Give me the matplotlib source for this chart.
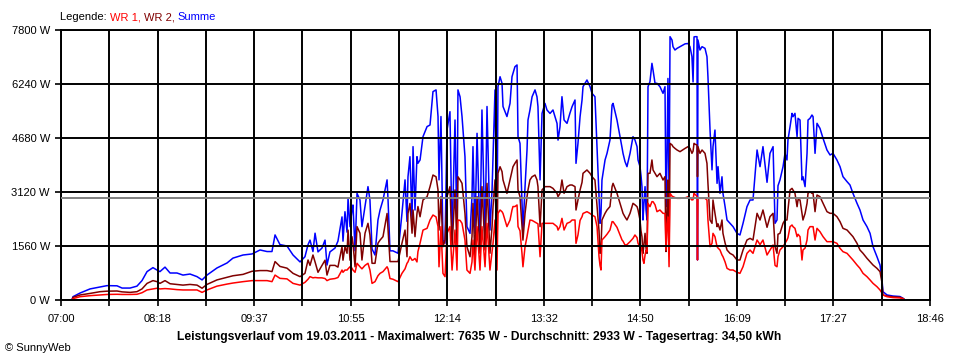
import matplotlib.pyplot as plt
import numpy as np

plt.rcParams['font.family'] = ['Liberation Sans', 'DejaVu Sans']

# Zeit in Minuten seit Mitternacht
zeit = [420.0, 428.9, 429.7, 435.4, 443.6, 451.7, 457.4, 465.5, 469.6, 476.1, 481.7, 485.8, 489.9, 494.7, 498.0,
        500.4, 504.5, 508.6, 514.2, 519.1, 524.8, 530.5, 534.6, 538.6, 546.7, 554.9, 559.7, 567.9, 575.2, 581.7,
        587.4, 591.4, 593.9, 597.9, 603.6, 608.5, 614.2, 618.2, 620.7, 622.3, 624.7, 626.4, 628.8, 632.0, 634.5,
        636.1, 638.5, 642.6, 645.0, 648.3, 649.1, 650.7, 652.4, 653.2, 654.8, 656.4, 657.2, 658.9, 660.5, 662.9,
        664.5, 667.0, 669.4, 671.0, 672.7, 675.1, 677.5, 679.2, 681.6, 684.9, 685.7, 687.3, 689.7, 693.8, 697.0,
        699.5, 701.1, 701.9, 703.5, 705.2, 706.0, 707.6, 709.2, 710.0, 711.7, 714.1, 717.4, 719.8, 722.2, 724.7,
        726.3, 727.1, 728.7, 730.3, 732.0, 733.6, 736.0, 737.7, 740.1, 741.7, 742.5, 744.2, 745.8, 748.2, 749.8,
        752.3, 753.9, 754.7, 756.3, 758.0, 760.4, 762.0, 764.5, 766.1, 768.5, 770.2, 771.0, 772.6, 774.2, 775.0,
        776.7, 778.3, 779.1, 782.3, 784.8, 786.4, 787.2, 788.8, 790.5, 791.3, 792.9, 794.5, 795.3, 797.0, 798.6,
        799.4, 801.0, 802.7, 805.1, 806.7, 807.5, 809.2, 810.8, 813.2, 814.8, 817.3, 819.7, 823.0, 823.8, 825.4,
        827.0, 828.7, 831.1, 833.5, 835.2, 837.6, 838.4, 840.0, 841.7, 843.3, 844.1, 847.3, 849.8, 851.4, 853.8,
        855.5, 857.1, 857.9, 858.7, 859.5, 862.0, 863.6, 866.0, 867.7, 868.5, 871.7, 874.2, 875.8, 876.6, 878.2,
        879.8, 882.3, 884.7, 886.3, 888.0, 888.8, 890.4, 891.2, 892.0, 892.8, 893.6, 894.5, 895.3, 896.1, 896.9,
        898.5, 900.1, 901.0, 902.6, 904.2, 906.6, 909.1, 910.7, 911.5, 912.3, 913.1, 914.0, 914.8, 916.4, 917.2,
        918.8, 920.5, 922.9, 927.0, 929.4, 931.0, 932.6, 933.5, 934.3, 935.1, 936.7, 937.1, 937.5, 939.1, 940.8,
        943.2, 944.8, 945.6, 947.3, 948.9, 949.7, 951.3, 953.0, 953.8, 955.4, 957.0, 957.8, 959.5, 961.1, 963.5,
        966.0, 969.2, 971.6, 974.1, 977.3, 979.8, 982.2, 985.5, 987.9, 990.3, 993.6, 996.0, 998.5, 1000.1, 1001.7,
        1002.5, 1004.1, 1006.6, 1008.2, 1009.8, 1010.6, 1012.3, 1013.9, 1014.7, 1016.3, 1018.0, 1018.8, 1020.4, 1022.0, 1022.8,
        1024.5, 1026.1, 1026.9, 1028.5, 1030.1, 1031.0, 1032.6, 1034.2, 1036.6, 1039.1, 1042.3, 1044.8, 1047.2, 1050.4, 1052.9,
        1055.3, 1058.6, 1061.0, 1063.4, 1066.7, 1069.1, 1071.6, 1074.8, 1077.3, 1079.7, 1082.9, 1085.4, 1087.0, 1087.8, 1091.1,
        1095.9, 1101.6, 1104.1, 1105.7]

summe = [0, 0, 95, 200, 320, 375, 415, 410, 345, 345, 400, 560, 820, 935, 865,
         820, 950, 780, 780, 720, 750, 675, 580, 720, 925, 1070, 1210, 1300, 1330, 1445,
         1400, 1400, 1880, 1600, 1560, 1300, 1100, 1250, 1600, 1730, 1400, 1930, 1390, 1500, 1730,
         1010, 1390, 1500, 1700, 2400, 1700, 2550, 1960, 2940, 2120, 2600, 2745, 1420, 3080, 2890,
         2120, 2700, 3275, 2890, 1475, 1300, 2310, 2600, 2890, 3470, 2890, 1420, 1420, 1350, 2500,
         3470, 2270, 3560, 4140, 2300, 4430, 2600, 4140, 3950, 4045, 4720, 5010, 5055, 6020, 6070,
         5300, 3470, 5300, 1730, 1640, 4910, 5440, 1730, 5200, 1730, 6070, 5870, 5300, 4140, 2120,
         1925, 2985, 4430, 1925, 4815, 1730, 5490, 1730, 5590, 2020, 3180, 4140, 6070, 1730, 6160,
         6450, 6260, 5590, 5300, 5680, 6450, 6550, 6740, 6790, 4720, 4525, 2890, 2020, 3275, 4330,
         5200, 5490, 5870, 6070, 5870, 5590, 3470, 5390, 5680, 5490, 5390, 5490, 5100, 4620, 5007,
         5873, 5200, 5103, 5400, 5585, 5778, 3948, 4525, 5295, 5778, 6163, 6355, 6163, 5970, 5873,
         4430, 3000, 2215, 2500, 3467, 4045, 4237, 4622, 5633, 5680, 5200, 4718, 4400, 4237, 4000,
         3852, 4237, 4718, 4622, 4430, 4045, 3852, 3600, 3275, 2311, 2800, 3275, 2600, 2311, 6163,
         6307, 6837, 6640, 6260, 6260, 6163, 5970, 6163, 2696, 4000, 6400, 3000, 7607, 7511, 7318,
         7222, 7270, 7318, 7400, 7410, 7318, 7030, 6300, 7600, 7607, 7607, 1156, 7511, 7222, 7318,
         7270, 7030, 6450, 4910, 3760, 4430, 4910, 3370, 3852, 3082, 3560, 3082, 2700, 2311, 2215,
         2119, 1926, 1878, 2215, 2696, 2889, 2889, 4333, 3852, 4430, 3400, 4237, 4430, 2215, 2311,
         3300, 3467, 3852, 4237, 4045, 4622, 5007, 5392, 5296, 5392, 4718, 5248, 5200, 3467, 3563,
         3275, 4237, 5200, 5248, 5344, 5296, 4237, 5104, 4959, 4670, 4333, 4189, 4237, 4044, 3852,
         3563, 3419, 3322, 3082, 2793, 2600, 2311, 2119, 1926, 1541, 1252, 1011, 580, 240, 145,
         115, 100, 50, 0]

wr2 = [0, 0, 75, 145, 190, 240, 255, 260, 235, 220, 240, 320, 480, 560, 530,
       480, 560, 470, 450, 430, 450, 430, 340, 450, 580, 655, 700, 740, 830, 850,
       850, 820, 1110, 970, 920, 770, 675, 770, 1155, 1000, 1300, 1100, 800, 1000, 1150,
       720, 1000, 1000, 950, 1540, 1150, 1540, 1350, 2020, 1150, 1830, 1640, 960, 2120, 1930,
       1155, 1930, 2215, 1880, 1060, 1060, 1640, 1730, 1830, 2500, 2020, 1110, 1110, 1110, 1640,
       2020, 1250, 2500, 2790, 1930, 2600, 1830, 2500, 2700, 2405, 2890, 2985, 3275, 3610, 3560,
       3180, 2020, 2985, 1540, 1730, 2985, 3275, 1540, 3180, 1540, 3560, 3470, 3370, 2500, 1540,
       1250, 1830, 2790, 1250, 2985, 1350, 3275, 1445, 3370, 1350, 2120, 2700, 3470, 1350, 3660,
       3850, 3710, 3470, 3080, 3470, 3710, 3850, 3950, 4045, 3180, 2985, 2120, 1730, 2500, 2985,
       3180, 3470, 3560, 3610, 3470, 3275, 2120, 3180, 3275, 3275, 3275, 3225, 3080, 2985, 3082,
       3467, 3082, 3275, 3322, 3322, 3275, 2600, 2889, 3178, 3400, 3660, 3756, 3660, 3563, 3467,
       2696, 2000, 1348, 1500, 2311, 2504, 2600, 2700, 3275, 3370, 3082, 2793, 2600, 2504, 2400,
       2311, 2504, 2793, 2750, 2696, 2600, 2311, 2000, 1830, 1348, 1600, 1926, 1500, 1348, 3660,
       3660, 4045, 3756, 3660, 3563, 3660, 3467, 3563, 1400, 2500, 3467, 1348, 4525, 4480, 4430,
       4380, 4333, 4285, 4380, 4430, 4380, 4237, 4300, 4525, 4500, 4480, 3563, 4430, 4237, 4333,
       4237, 3948, 3370, 2311, 2215, 2889, 2504, 2119, 2200, 2022, 2311, 1926, 1650, 1444, 1348,
       1300, 1156, 1156, 1444, 1733, 1781, 1733, 2504, 2311, 2600, 2100, 2407, 2504, 1541, 1348,
       1900, 1926, 2215, 2311, 2311, 2600, 3178, 3225, 3178, 3082, 2696, 2900, 2889, 2504, 2311,
       2500, 2793, 3082, 3130, 3082, 3082, 2552, 3033, 2985, 2793, 2552, 2504, 2504, 2407, 2263,
       2070, 2022, 1926, 1830, 1637, 1444, 1348, 1204, 1107, 1011, 915, 818, 500, 145, 115,
       90, 80, 40, 0]

wr1 = [0, 0, 40, 95, 125, 145, 160, 165, 160, 160, 165, 210, 290, 320, 340,
       320, 330, 320, 300, 290, 290, 290, 220, 290, 400, 460, 490, 530, 560, 560,
       560, 530, 720, 625, 610, 480, 430, 510, 600, 675, 640, 650, 640, 640, 620,
       560, 600, 620, 650, 865, 800, 865, 865, 900, 960, 920, 865, 800, 1060, 960,
       900, 1000, 1060, 865, 480, 530, 700, 770, 820, 960, 900, 620, 600, 530, 770,
       900, 1060, 1100, 1250, 1150, 1155, 1200, 1100, 1400, 1640, 2020, 2070, 2310, 2455, 2400,
       2120, 960, 2120, 770, 675, 1925, 2120, 865, 2020, 865, 2310, 2300, 2215, 1730, 865,
       770, 1100, 1730, 865, 2120, 865, 2120, 960, 2215, 865, 1400, 1640, 2310, 865, 2500,
       2600, 2550, 2500, 2120, 2310, 2600, 2700, 2700, 2745, 2120, 2000, 1350, 960, 1540, 1830,
       2000, 2310, 2300, 2250, 2215, 2200, 1250, 2215, 2215, 2215, 2215, 2215, 2120, 2020, 2119,
       2359, 2022, 2215, 2250, 2311, 2311, 1637, 1878, 2300, 2407, 2500, 2552, 2500, 2455, 2407,
       2119, 1252, 1000, 867, 1733, 1830, 1900, 2022, 2263, 2263, 2100, 1878, 1733, 1700, 1589,
       1600, 1685, 1781, 1878, 1800, 1637, 1541, 1541, 1400, 1156, 1059, 1300, 1444, 1400, 2793,
       2696, 2841, 2841, 2750, 2552, 2600, 2504, 2500, 1444, 2200, 2400, 963, 3082, 3000, 2985,
       2960, 2937, 2937, 2950, 2985, 2950, 2889, 2900, 3082, 3050, 3000, 1156, 2960, 2937, 2937,
       2937, 2889, 2311, 1540, 1637, 1926, 1830, 1540, 1500, 1444, 1300, 1252, 1100, 915, 867,
       867, 800, 770, 963, 1348, 1444, 1348, 1733, 1600, 1733, 1300, 1444, 1589, 1000, 960,
       1250, 1444, 1541, 1637, 1733, 1800, 2119, 2167, 2119, 2070, 1830, 1900, 1830, 1156, 1444,
       1500, 1733, 2022, 2119, 2119, 2119, 1733, 2070, 1974, 1830, 1685, 1685, 1685, 1637, 1493,
       1396, 1348, 1252, 1156, 1011, 915, 770, 674, 578, 481, 385, 289, 200, 145, 95,
       70, 60, 40, 0]

durchschnitt = 2933
x_labels = ["07:00", "08:18", "09:37", "10:55", "12:14", "13:32", "14:50", "16:09", "17:27", "18:46"]
y_werte = [0, 1560, 3120, 4680, 6240, 7800]

fig = plt.figure(figsize=(9.6, 3.6), dpi=100)
ax = fig.add_axes([61/960, 60/360, 869/960, 270/360])

ax.plot(zeit, summe, color="#0000ff", lw=1.1)
ax.plot(zeit, wr2, color="#800000", lw=1.1)
ax.plot(zeit, wr1, color="#ff0000", lw=1.1)
ax.axhline(durchschnitt, color="#808080", lw=1.4, zorder=2.6)

# Achsen
x_ticks = np.linspace(420, 1126, 19)
ax.set_xlim(420, 1126)
ax.set_ylim(0, 7800)
ax.set_xticks(x_ticks)
ax.set_xticklabels([x_labels[i // 2] if i % 2 == 0 else "" for i in range(19)])
ax.set_yticks(y_werte)
ax.set_yticklabels([f"{v} W" for v in y_werte])
ax.set_axisbelow(False)
ax.grid(color="black", lw=1.4)
for s in ax.spines.values():
    s.set_linewidth(1.4)
ax.tick_params(length=4, width=1.2, labelsize=8, pad=4)
ax.tick_params(axis="x", pad=6)

# Legende oben
renderer = fig.canvas.get_renderer()
x0 = 60
for txt, col in [("Legende: ", "black"), ("WR 1, ", "#ff0000"), ("WR 2, ", "#800000"), ("Summe", "#0000ff")]:
    t = fig.text(x0/960, 1 - 17/360, txt, color=col, fontsize=8, va="center", ha="left")
    x0 += t.get_window_extent(renderer).width

fig.text(479/960, 1 - 337/360,
         "Leistungsverlauf vom 19.03.2011 - Maximalwert: 7635 W - Durchschnitt: 2933 W - Tagesertrag: 34,50 kWh",
         fontsize=8.7, fontweight="bold", ha="center", va="center")
fig.text(5/960, 1 - 348/360, "© SunnyWeb", fontsize=8, ha="left", va="center")

fig.savefig("out.png", dpi=100)
